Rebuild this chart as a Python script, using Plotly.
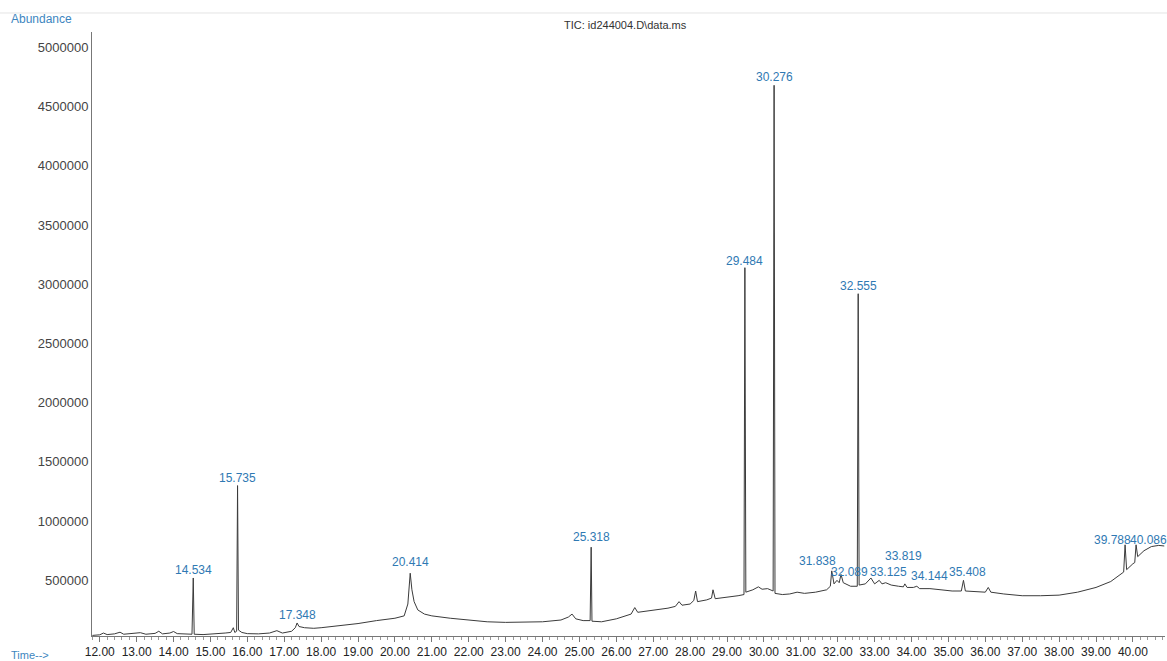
import plotly.graph_objects as go

# Total ion chromatogram: retention time (min) vs. abundance (counts)
rt_min = [
    11.80, 12.00, 12.10, 12.20, 12.40, 12.55, 12.65, 12.90, 13.10, 13.25,
    13.50, 13.60, 13.70, 13.90, 14.00, 14.10, 14.30, 14.50, 14.56, 14.80,
    15.00, 15.20, 15.40, 15.55, 15.62, 15.66, 15.71, 15.76, 15.85, 16.00,
    16.30, 16.60, 16.80, 16.95, 17.20, 17.30, 17.40, 17.55, 17.80, 18.00,
    18.50, 19.00, 19.50, 20.00, 20.25, 20.35, 20.46, 20.52, 20.62, 20.80,
    21.00, 21.50, 22.00, 22.50, 23.00, 23.50, 24.00, 24.50, 24.70, 24.80,
    24.90, 25.10, 25.29, 25.34, 25.60, 26.00, 26.40, 26.50, 26.58, 27.00,
    27.40, 27.60, 27.70, 27.78, 28.00, 28.10, 28.15, 28.20, 28.45, 28.58,
    28.62, 28.68, 29.00, 29.30, 29.46, 29.51, 29.70, 29.85, 29.95, 30.10,
    30.25, 30.30, 30.50, 30.70, 30.90, 31.10, 31.40, 31.70, 31.80, 31.90,
    31.98, 32.04, 32.15, 32.35, 32.53, 32.58, 32.75, 32.90, 33.00, 33.20,
    33.30, 33.45, 33.65, 33.78, 33.88, 34.05, 34.22, 34.50, 34.80, 35.10,
    35.35, 35.46, 35.80, 36.00, 36.08, 36.15, 36.50, 37.00, 37.50, 38.00,
    38.50, 39.00, 39.40, 39.65, 39.75, 39.83, 40.00, 40.05, 40.13, 40.30,
    40.50, 40.70, 40.85,
]
abundance = [
    35000, 40000, 55000, 42000, 48000, 62000, 45000, 50000, 58000, 45000,
    52000, 70000, 48000, 55000, 68000, 50000, 45000, 45000, 45000, 42000,
    45000, 50000, 55000, 60000, 100000, 60000, 70000, 80000, 60000, 50000,
    48000, 55000, 75000, 55000, 70000, 100000, 110000, 100000, 95000, 100000,
    115000, 135000, 160000, 180000, 200000, 300000, 420000, 320000, 250000, 215000,
    200000, 180000, 165000, 150000, 145000, 145000, 150000, 165000, 190000, 215000,
    175000, 160000, 160000, 155000, 150000, 175000, 215000, 270000, 230000, 245000,
    265000, 280000, 320000, 290000, 300000, 330000, 410000, 320000, 335000, 350000,
    420000, 345000, 355000, 370000, 380000, 400000, 420000, 445000, 425000, 430000,
    410000, 390000, 380000, 385000, 400000, 390000, 400000, 420000, 450000, 470000,
    500000, 480000, 480000, 450000, 450000, 460000, 470000, 520000, 470000, 470000,
    480000, 460000, 450000, 445000, 440000, 440000, 430000, 430000, 420000, 410000,
    410000, 410000, 400000, 400000, 440000, 400000, 385000, 370000, 370000, 375000,
    400000, 440000, 490000, 550000, 570000, 590000, 640000, 650000, 700000, 750000,
    785000, 795000, 790000,
]

# Integrated peaks: apex retention time and apex abundance
peak_rt = [14.534, 15.735, 17.348, 20.414, 25.318, 29.484, 30.276, 31.838,
           32.089, 32.555, 33.125, 33.819, 34.144, 35.408, 39.788, 40.086]
peak_abund = [520000, 1300000, 140000, 560000, 780000, 3140000, 4680000, 580000,
              550000, 2920000, 500000, 470000, 450000, 500000, 800000, 800000]

# label offsets (px) so crowded peak labels stay readable
label_dx = [0, 0, 0, 0, 0, 0, 0, -14, 8, 0, 9, -1, 13, 4, -13, 12]
label_dy = [8, 8, 8, 11, 10, 7, 8, 10, 2, 8, 8, 28, 10, 8, 5, 5]

y_ticks = [500000, 1000000, 1500000, 2000000, 2500000,
           3000000, 3500000, 4000000, 4500000, 5000000]
x_ticks = list(range(12, 41))

# merge baseline points with the peak apexes
pts = sorted(zip(rt_min + peak_rt, abundance + peak_abund))
xs = [p[0] for p in pts]
ys = [p[1] for p in pts]

label_blue = "#2f79b3"
font_fam = "Liberation Sans, Arial, sans-serif"

fig = go.Figure()
fig.add_trace(go.Scatter(
    x=xs, y=ys, mode="lines",
    line=dict(color="#3b3b3b", width=1),
    hoverinfo="x+y", showlegend=False,
))

for rt, ab, dx, dy in zip(peak_rt, peak_abund, label_dx, label_dy):
    fig.add_annotation(
        x=rt, y=ab, text=f"{rt:.3f}", showarrow=False,
        xanchor="center", yanchor="middle", xshift=dx, yshift=dy,
        font=dict(family=font_fam, size=12, color=label_blue),
    )

fig.add_annotation(
    x=-0.077, y=1.021, xref="paper", yref="paper", text="Abundance",
    showarrow=False, xanchor="left", yanchor="middle",
    font=dict(family=font_fam, size=12, color="#3d86c0"),
)
fig.add_annotation(
    x=0.4975, y=1.0116, xref="paper", yref="paper", text="TIC: id244004.D\\data.ms",
    showarrow=False, xanchor="center", yanchor="middle",
    font=dict(family=font_fam, size=11, color="#333333"),
)
fig.add_annotation(
    x=-0.077, y=-0.032, xref="paper", yref="paper", text="Time-->",
    showarrow=False, xanchor="left", yanchor="middle",
    font=dict(family=font_fam, size=11, color="#3d86c0"),
)
# faint rule across the top of the page
fig.add_shape(
    type="line", xref="paper", yref="paper",
    x0=-0.086, x1=1.002, y0=1.0315, y1=1.0315,
    line=dict(color="#e4e4e4", width=1),
)

fig.update_xaxes(
    range=[11.79, 40.87],
    tickvals=x_ticks, ticktext=[f"{v:.2f}" for v in x_ticks],
    ticks="outside", ticklen=5, tickwidth=1, tickcolor="#777777",
    minor=dict(dtick=0.2, ticks="outside", ticklen=3, tickcolor="#999999"),
    showline=True, linecolor="#777777", linewidth=1,
    showgrid=False, zeroline=False,
    tickfont=dict(family=font_fam, size=12, color="#222222"),
)
fig.update_yaxes(
    range=[30000, 5130000],
    tickvals=y_ticks, ticktext=[str(v) for v in y_ticks],
    ticks="", showline=True, linecolor="#777777", linewidth=1,
    showgrid=False, zeroline=False,
    tickfont=dict(family=font_fam, size=13, color="#444444"),
)
fig.update_layout(
    width=1167, height=661,
    margin=dict(l=92, r=2, t=32, b=25),
    paper_bgcolor="white", plot_bgcolor="white",
    showlegend=False,
)

fig.write_html("out.html")
